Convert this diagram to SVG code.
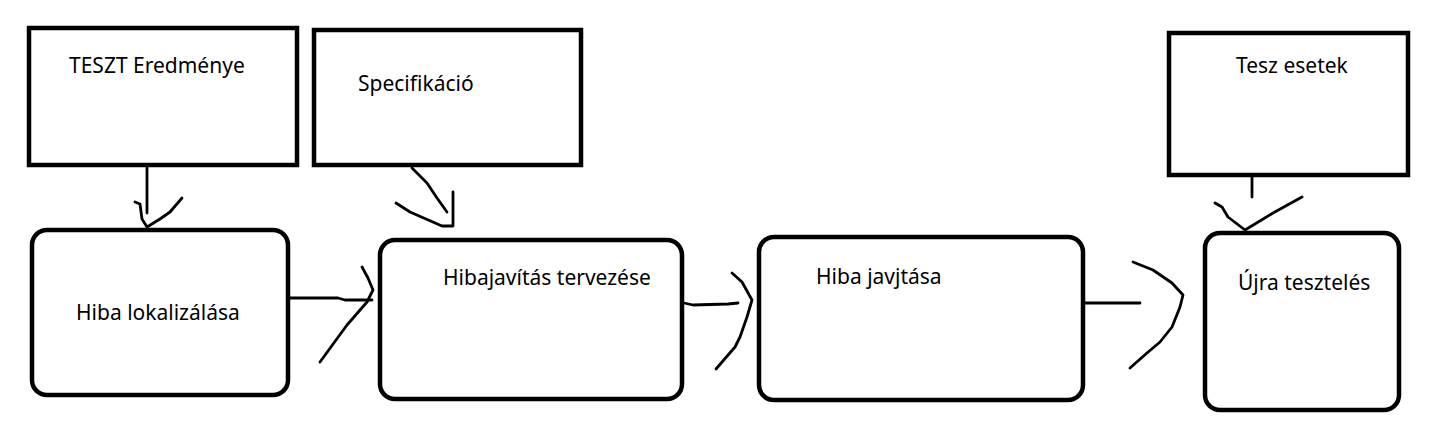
<svg xmlns="http://www.w3.org/2000/svg" width="1432" height="444" viewBox="0 0 1432 444">
<style>
.box{fill:#fff;stroke:#000;stroke-width:4.5}
.lbl{font-family:"Noto Sans","Open Sans",sans-serif;font-size:21px;fill:#000}
.c{fill:none;stroke:#000;stroke-width:2.8;stroke-linecap:round;stroke-linejoin:round}
</style>
<rect width="1432" height="444" fill="#fff"/>
<g id="connectors">
<path class="c" d="M147,168 L147,213"/>
<path class="c" d="M135,202 L140,204 L142,219 L147,227 L160,219 L170,212 L182,198"/>
<path class="c" d="M412,168 L427,183 L437,198 L447,212"/>
<path class="c" d="M453,192 L453,226 L442,226 L410,212 L396,203"/>
<path class="c" d="M290,298 L338,298 L345,300 L372,300"/>
<path class="c" d="M362,267 L368,278 L373,290 L367,302 L347,325 L320,362"/>
<path class="c" d="M684,303 L693,305 L728,304 L738,303"/>
<path class="c" d="M732,273 L742,282 L752,300 L747,317 L740,337 L735,347 L716,369"/>
<path class="c" d="M1085,303 L1140,303"/>
<path class="c" d="M1133,262 L1153,270 L1172,283 L1183,295 L1180,307 L1172,327 L1160,342 L1147,353 L1130,368"/>
<path class="c" d="M1252,177 L1252,197"/>
<path class="c" d="M1215,203 L1222,207 L1228,217 L1245,230 L1273,213 L1302,197"/>
</g>
<g id="teszt-eredmenye">
<rect class="box" x="29" y="28" width="268" height="137"/>
<text class="lbl" x="69" y="73">TESZT Eredménye</text>
</g>
<g id="specifikacio">
<rect class="box" x="314" y="30" width="267" height="135"/>
<text class="lbl" x="358" y="91">Specifikáció</text>
</g>
<g id="tesz-esetek">
<rect class="box" x="1169" y="33" width="239" height="142"/>
<text class="lbl" x="1236" y="73">Tesz esetek</text>
</g>
<g id="hiba-lokalizalasa">
<rect class="box" x="32" y="230" width="256" height="165" rx="15"/>
<text class="lbl" x="76" y="320">Hiba lokalizálása</text>
</g>
<g id="hibajavitas-tervezese">
<rect class="box" x="380" y="240" width="302" height="159" rx="15"/>
<text class="lbl" x="443" y="285">Hibajavítás tervezése</text>
</g>
<g id="hiba-javjtasa">
<rect class="box" x="759" y="237" width="324" height="163" rx="15"/>
<text class="lbl" x="816" y="284">Hiba javjtása</text>
</g>
<g id="ujra-teszteles">
<rect class="box" x="1205" y="233" width="194" height="177" rx="15"/>
<text class="lbl" x="1238" y="290">Újra tesztelés</text>
</g>
</svg>
